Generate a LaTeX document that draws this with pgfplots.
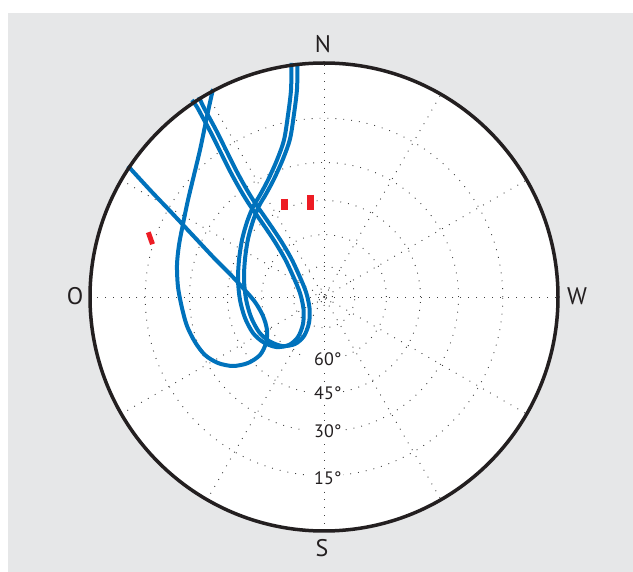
\documentclass[border=0pt]{standalone}
\usepackage{pgfplots}
\pgfplotsset{compat=1.18}
\usepackage{fontspec}
\setmainfont{PT Sans}
\definecolor{bg}{HTML}{E6E7E8}
\definecolor{sat}{HTML}{0072BC}
\definecolor{mk}{HTML}{ED1C24}
\definecolor{rim}{HTML}{231F20}
\begin{document}
\begin{tikzpicture}
\begin{axis}[hide axis, scale only axis, width=633pt, height=572pt,
  xmin=0, xmax=633, ymin=0, ymax=572, y dir=reverse, clip=false]
\fill[white] (axis cs:0,0) rectangle (axis cs:633,572);
\fill[bg] (axis cs:8,13) rectangle (axis cs:633,572);
\fill[white] (axis cs:324,297) circle[radius=234pt];
% grid
\begin{scope}[black!75, line width=0.9pt, dash pattern=on 0.9pt off 7pt]
\draw (axis cs:324,297) circle[radius=8.5pt];
\draw (axis cs:324,297) circle[radius=30.7pt];
\draw (axis cs:324,297) circle[radius=62.4pt];
\draw (axis cs:324,297) circle[radius=96.5pt];
\draw (axis cs:324,297) circle[radius=134.5pt];
\draw (axis cs:324,297) circle[radius=178.8pt];
\draw (axis cs:324,65) -- (axis cs:324,529);
\draw (axis cs:440,96) -- (axis cs:208,498);
\draw (axis cs:525,181) -- (axis cs:123,413);
\draw (axis cs:556,297) -- (axis cs:92,297);
\draw (axis cs:525,413) -- (axis cs:123,181);
\draw (axis cs:440,498) -- (axis cs:208,96);
\end{scope}
\fill[black] (axis cs:324,297) circle[radius=1pt];
% single loop
\addplot[sat, line width=4pt, line join=round, no markers, smooth, tension=0.5] coordinates {
(128,166) (150,190) (170,211) (185,227) (200,243) (215,259) (230,274) (243,288)
(255,302) (263,316) (267,330) (266,343) (260,355) (248,363) (233,366) (218,363)
(205,355) (195,342) (187,326) (182,308) (178,287) (177,265) (179,245) (183,224)
(188,200) (194,175) (200,150) (205,126) (209,107) (213,89)};
% double figure loop
\addplot[sat, line width=4pt, line join=round, no markers, smooth, tension=0.5] coordinates {
(291.5,63) (291,90) (288,115) (284,140) (277,160) (268,180) (260,195) (253,207)
(247,222) (242,240) (239,260) (238,280) (240,300) (245,318) (253,333) (263,342)
(276,347) (289,345) (298,337) (303,324) (303.5,309) (300,293) (293,276) (285,259)
(275,242) (265,227) (256,214) (249,204) (241,191) (231,173) (220,151) (210,131)
(203,118) (197,107) (192,100)};
\addplot[sat, line width=4pt, line join=round, no markers, smooth, tension=0.5] coordinates {
(297.5,63) (297,89) (294,114) (290,139) (283,159) (274,179) (266,194) (259,206)
(253,221) (248,239) (245,259) (244,279) (246,299) (251,317) (259,332) (269,341)
(282,346) (295,344) (304,336) (309,323) (309.5,308) (306,292) (299,275) (291,258)
(281,241) (271,226) (262,213) (255,203) (247,190) (237,172) (226,150) (216,130)
(209,117) (203,106) (199,97)};
% red marks
\addplot[mk, line width=7pt, no markers] coordinates {(284.5,199) (284.5,210)};
\addplot[mk, line width=7pt, no markers] coordinates {(310.5,195) (310.5,210)};
\addplot[mk, line width=5pt, no markers] coordinates {(148.3,232.3) (152.5,244.2)};
% rim
\draw[rim, line width=3.5pt] (axis cs:324,297) circle[radius=234pt];
% labels
\node[font=\fontsize{24}{24}\selectfont, text=rim] at (axis cs:323,44) {N};
\node[font=\fontsize{24}{24}\selectfont, text=rim] at (axis cs:322,548) {S};
\node[font=\fontsize{24}{24}\selectfont, text=rim] at (axis cs:75,296) {O};
\node[font=\fontsize{24}{24}\selectfont, text=rim] at (axis cs:577,296) {W};
\begin{scope}[every node/.style={fill=white, inner sep=1.5pt, text=rim, font=\fontsize{18}{18}\selectfont}]
\node at (axis cs:324,359.4) {\phantom{°}60°};
\node at (axis cs:324,393.5) {\phantom{°}45°};
\node at (axis cs:324,431.5) {\phantom{°}30°};
\node at (axis cs:324,478) {\phantom{°}15°};
\end{scope}
\end{axis}
\end{tikzpicture}
\end{document}
